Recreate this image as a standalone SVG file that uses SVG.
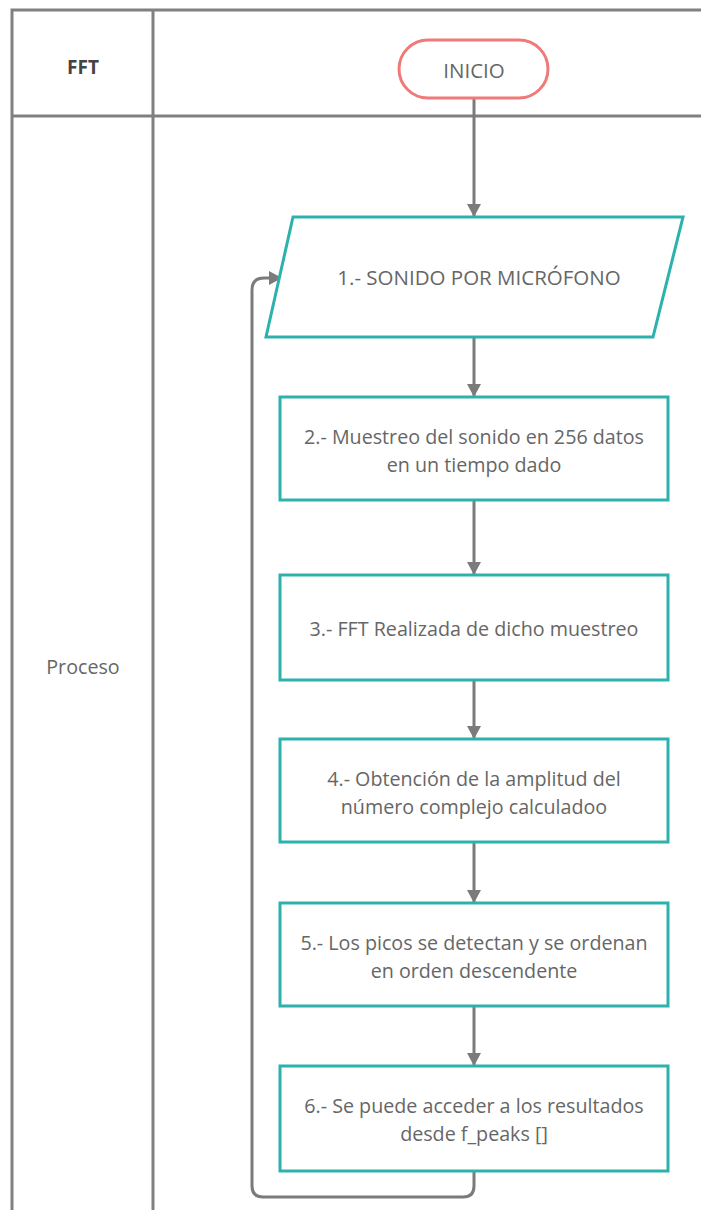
<svg xmlns="http://www.w3.org/2000/svg" width="701" height="1210" viewBox="0 0 701 1210">
<defs>
<marker id="ah" markerWidth="14" markerHeight="14" viewBox="0 0 14 14" refX="12" refY="7" orient="auto" markerUnits="userSpaceOnUse">
<path d="M0,0 L13,7 L0,14 Z" fill="#7b7b7b"/>
</marker>
<style>
.lane{stroke:#808080;stroke-width:3;fill:none}
.conn{stroke:#7b7b7b;stroke-width:3;fill:none}
.box{fill:#fff;stroke:#2db1ad;stroke-width:3}
.t{font-family:"Open Sans","Liberation Sans",sans-serif;font-size:19.7px;fill:#666;text-anchor:middle}
</style>
</defs>
<rect width="701" height="1210" fill="#fff"/>
<g id="lanes">
<path class="lane" d="M12,1210 V10 H701 M153,10 V1210 M12,116 H701"/>
<text class="t" x="83" y="74" style="font-weight:bold;fill:#444;font-size:19px">FFT</text>
<text class="t" x="83" y="674">Proceso</text>
</g>
<g id="connectors">
<path class="conn" d="M474,98 V216" marker-end="url(#ah)"/>
<path class="conn" d="M474,337 V396" marker-end="url(#ah)"/>
<path class="conn" d="M474,500 V574" marker-end="url(#ah)"/>
<path class="conn" d="M474,680 V738" marker-end="url(#ah)"/>
<path class="conn" d="M474,842 V902" marker-end="url(#ah)"/>
<path class="conn" d="M474,1006 V1065" marker-end="url(#ah)"/>
<path class="conn" d="M474,1171 V1186 Q474,1197 463,1197 H263 Q252,1197 252,1186 V290 Q252,278 264,278 H281" marker-end="url(#ah)"/>
</g>
<g id="inicio">
<rect x="399" y="40" width="149" height="58" rx="29" fill="#fff" stroke="#f07a7a" stroke-width="3"/>
<text class="t" x="474" y="78" style="font-size:20.5px">INICIO</text>
</g>
<g id="n1">
<path class="box" d="M293,217 H683 L653,337 H266 Z"/>
<text class="t" x="479" y="285" style="font-size:20.5px">1.- SONIDO POR MICRÓFONO</text>
</g>
<g id="n2">
<rect class="box" x="280" y="397" width="388" height="103"/>
<text class="t" x="474" y="444">2.- Muestreo del sonido en 256 datos</text>
<text class="t" x="474" y="472">en un tiempo dado</text>
</g>
<g id="n3">
<rect class="box" x="280" y="575" width="388" height="105"/>
<text class="t" x="474" y="636">3.- FFT Realizada de dicho muestreo</text>
</g>
<g id="n4">
<rect class="box" x="280" y="739" width="388" height="103"/>
<text class="t" x="474" y="786">4.- Obtención de la amplitud del</text>
<text class="t" x="474" y="814">número complejo calculadoo</text>
</g>
<g id="n5">
<rect class="box" x="280" y="903" width="388" height="103"/>
<text class="t" x="474" y="950">5.- Los picos se detectan y se ordenan</text>
<text class="t" x="474" y="978">en orden descendente</text>
</g>
<g id="n6">
<rect class="box" x="280" y="1066" width="388" height="105"/>
<text class="t" x="474" y="1113">6.- Se puede acceder a los resultados</text>
<text class="t" x="474" y="1141">desde f_peaks []</text>
</g>
</svg>
